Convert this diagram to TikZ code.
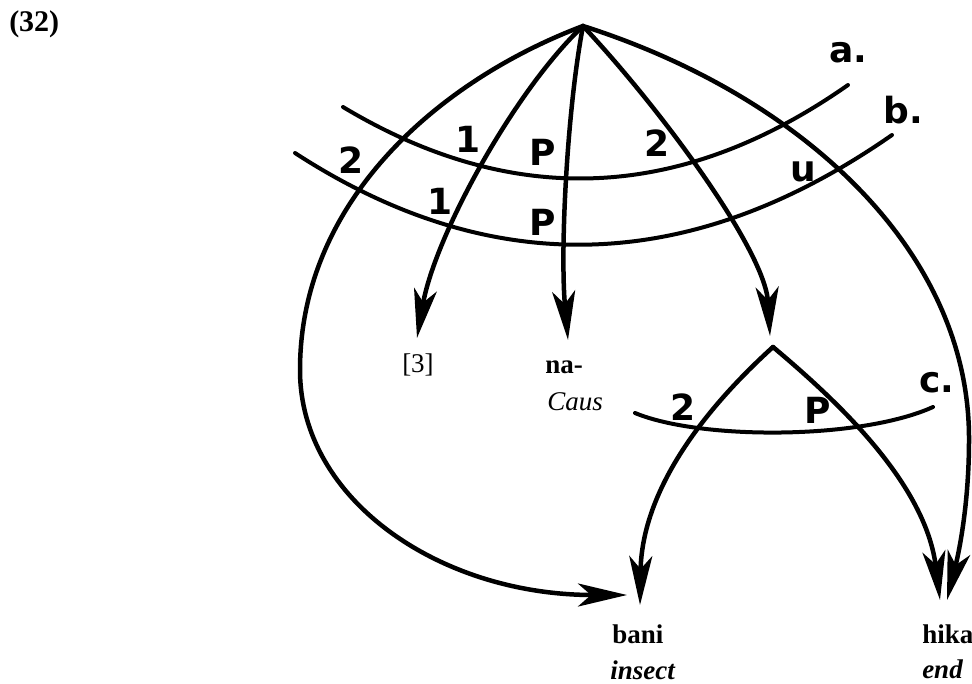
\documentclass[tikz,border=0pt]{standalone}
\usepackage{fontspec}
\setmainfont{Liberation Serif}
\newfontfamily\labfont{DejaVu Sans}
\usetikzlibrary{arrows.meta}
\begin{document}
\begin{tikzpicture}[x=1pt,y=-1pt,line width=4.5pt,line cap=round,
  arr/.style={-{Stealth[length=49pt,width=23pt,inset=13pt]}},
  cross/.style={line width=4pt},
  lbl/.style={font=\labfont\bfseries\fontsize{36}{36}\selectfont,inner sep=0pt},
  txt/.style={font=\fontsize{27}{29}\selectfont,inner sep=0pt,anchor=base west}]
\useasboundingbox (0,0) rectangle (972,683);
% points
\coordinate (A) at (583,26);
\coordinate (L) at (773,347);
\coordinate (W) at (300,370);
\coordinate (R) at (969,440);
\coordinate (tBh) at (627,595);
\coordinate (t3) at (417,338);
\coordinate (tna) at (568,340);
\coordinate (tL) at (770,336);
\coordinate (tH1) at (940,600);
\coordinate (tH2) at (947,600);
\coordinate (tBv) at (640,605);
\coordinate (aS) at (343,107);
\coordinate (aE) at (848,85);
\coordinate (bS) at (295,153);
\coordinate (bE) at (892,135);
\coordinate (cS) at (635,413);
\coordinate (cE) at (933,407);
% arcs from the top
\draw[arr] (A) .. controls (440,80) and (300,200) .. (W) .. controls (300,500) and (440,595) .. (tBh);
\draw[arr] (A) .. controls (515,90) and (435,235) .. (t3);
\draw[arr] (A) .. controls (567,110) and (560,250) .. (tna);
\draw[arr] (A) .. controls (660,108) and (765,250) .. (tL);
\draw[arr] (A) .. controls (800,95) and (970,250) .. (R) .. controls (969,510) and (957,560) .. (tH2);
% arcs from the lower apex
\draw[arr] (L) .. controls (720,395) and (642,480) .. (tBv);
\draw[arr] (L) .. controls (830,395) and (925,480) .. (tH1);
% crossing lines
\draw[cross] (aS) .. controls (513,209) and (681,202) .. (aE);
\draw[cross] (bS) .. controls (492,281) and (691,275) .. (bE);
\draw[cross] (cS) .. controls (700,440) and (860,440) .. (cE);
% labels
\node[lbl] (la) at (848,53) {a.};
\node[lbl] (lb) at (903,110) {b.};
\node[lbl] (lc) at (937,383) {c.};
\node[lbl] (a1) at (468,139) {1};
\node[lbl] (aP) at (543,152) {P};
\node[lbl] (a2) at (657,143) {2};
\node[lbl] (b2) at (351,160) {2};
\node[lbl] (b1) at (440,201) {1};
\node[lbl] (bP) at (543,222) {P};
\node[lbl] (bu) at (803,172) {u};
\node[lbl] (c2) at (683,407) {2};
\node[lbl] (cP) at (818,410) {P};
% texts
\node[txt,font=\bfseries\fontsize{30}{32}\selectfont] (ex) at (7,31) {(32)};
\node[txt] (n3) at (400,372) {[3]};
\node[txt,font=\bfseries\fontsize{27}{29}\selectfont] (na) at (543,373) {na-};
\node[txt,font=\itshape\fontsize{27}{29}\selectfont] (caus) at (545,410) {Caus};
\node[txt,font=\bfseries\fontsize{27}{29}\selectfont] (bani) at (610,643) {bani};
\node[txt,font=\bfseries\itshape\fontsize{27}{29}\selectfont] (insect) at (608,679) {insect};
\node[txt,font=\bfseries\fontsize{27}{29}\selectfont] (hika) at (920,643) {hika};
\node[txt,font=\bfseries\itshape\fontsize{27}{29}\selectfont] (end) at (920,678) {end};
\end{tikzpicture}
\end{document}
